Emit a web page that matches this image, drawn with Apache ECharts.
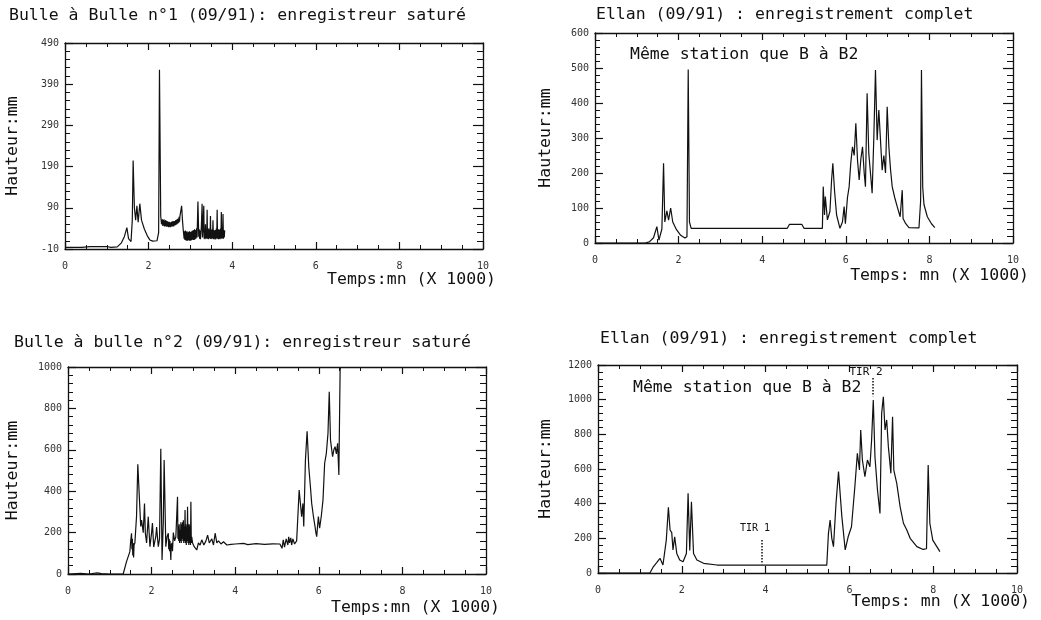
<!DOCTYPE html>
<html>
<head>
<meta charset="utf-8">
<title>Bulle à bulle / Ellan (09/91)</title>
<script src="https://cdn.jsdelivr.net/npm/echarts@6/dist/echarts.min.js"></script>
<style>
  html, body { margin: 0; padding: 0; background: #fff; }
  #main { width: 1041px; height: 620px; }
</style>
</head>
<body>
<div id="main"></div>
<script>
// titres des 4 graphes
var titres = [
  "Bulle à Bulle n°1 (09/91): enregistreur saturé",
  "Ellan (09/91) : enregistrement complet",
  "Bulle à bulle n°2 (09/91): enregistreur saturé",
  "Ellan (09/91) : enregistrement complet"
];
var nomsX = ["Temps:mn (X 1000)", "Temps: mn (X 1000)", "Temps:mn (X 1000)", "Temps: mn (X 1000)"];
var nomY = "Hauteur:mm";

// axe des temps (x 1000 mn)
var axeX = [0, 10, 2];
// axes des hauteurs : [min, max, pas]
var axeY1 = [-10, 490, 100];
var axeY2 = [0, 600, 100];
var axeY3 = [0, 1000, 200];
var axeY4 = [0, 1200, 200];

// Bulle à bulle n°1 : [temps, hauteur]
var bulle1 = [
  [0, -6], [0.4, -6], [0.6, -4], [1.0, -4], [1.1, -6], [1.25, -5], [1.35, 5], [1.42, 20],
  [1.48, 42], [1.52, 15], [1.58, 8], [1.61, 60], [1.63, 205], [1.66, 90], [1.69, 60],
  [1.72, 95], [1.75, 55], [1.79, 100], [1.83, 60], [1.9, 38], [1.97, 22], [2.03, 12],
  [2.1, 9], [2.2, 10], [2.24, 30], [2.26, 425], [2.29, 70], [2.31, 50],
  [2.33, 62], [2.34, 46], [2.35, 60], [2.36, 47], [2.37, 62], [2.38, 45], [2.39, 58],
  [2.4, 46], [2.41, 60], [2.42, 44], [2.43, 58], [2.44, 45], [2.45, 57], [2.46, 44],
  [2.47, 56], [2.48, 43], [2.49, 56], [2.5, 44], [2.51, 55], [2.52, 43], [2.53, 55],
  [2.54, 45], [2.55, 56], [2.56, 44], [2.57, 57], [2.58, 46], [2.59, 57], [2.6, 45],
  [2.61, 58], [2.62, 47], [2.63, 58], [2.64, 48], [2.65, 60], [2.66, 49], [2.67, 61],
  [2.68, 50], [2.69, 63], [2.7, 52], [2.71, 64], [2.72, 54], [2.73, 68], [2.74, 56],
  [2.75, 70], [2.77, 72], [2.79, 95], [2.81, 60], [2.83, 35],
  [2.85, 15], [2.86, 33], [2.87, 12], [2.88, 35], [2.89, 11], [2.9, 32], [2.91, 10],
  [2.92, 33], [2.93, 10], [2.94, 30], [2.95, 12], [2.96, 32], [2.97, 10], [2.98, 33],
  [2.99, 11], [3.0, 31], [3.01, 10], [3.02, 32], [3.03, 12], [3.04, 34], [3.05, 13],
  [3.06, 35], [3.07, 12], [3.08, 36], [3.09, 12], [3.1, 38], [3.11, 14], [3.12, 36],
  [3.13, 15], [3.15, 40], [3.16, 18], [3.18, 105], [3.2, 20], [3.21, 38], [3.22, 15],
  [3.23, 35], [3.24, 14], [3.26, 40], [3.28, 100], [3.29, 18], [3.3, 35], [3.32, 95],
  [3.33, 15], [3.34, 38], [3.35, 14], [3.36, 50], [3.37, 16], [3.38, 36], [3.39, 15],
  [3.4, 85], [3.41, 15], [3.42, 38], [3.43, 14], [3.44, 40], [3.45, 16], [3.46, 36],
  [3.47, 15], [3.48, 70], [3.49, 14], [3.5, 36], [3.51, 15], [3.52, 38], [3.53, 16],
  [3.54, 60], [3.55, 14], [3.56, 36], [3.57, 15], [3.58, 35], [3.59, 13], [3.6, 36],
  [3.61, 14], [3.62, 40], [3.63, 16], [3.64, 85], [3.65, 15], [3.66, 38], [3.67, 14],
  [3.68, 38], [3.69, 15], [3.7, 36], [3.71, 14], [3.72, 40], [3.73, 16], [3.74, 80],
  [3.75, 15], [3.76, 38], [3.77, 16], [3.78, 75], [3.79, 15], [3.8, 36], [3.81, 18], [3.82, 35]
];

// Ellan, même station que B à B2 (haut)
var ellan1 = [
  [0, 0], [1.2, 0], [1.3, 3], [1.4, 15], [1.48, 47], [1.53, 8], [1.6, 40], [1.64, 228],
  [1.67, 60], [1.72, 92], [1.76, 65], [1.81, 100], [1.86, 60], [1.95, 38], [2.05, 22],
  [2.15, 14], [2.2, 18], [2.23, 496], [2.26, 60], [2.3, 42], [4.6, 42], [4.65, 53],
  [4.95, 53], [5.0, 42], [5.44, 42], [5.46, 161], [5.49, 80], [5.51, 133], [5.56, 66],
  [5.62, 90], [5.66, 180], [5.69, 228], [5.73, 150], [5.78, 80], [5.86, 42], [5.92, 60],
  [5.96, 104], [5.99, 55], [6.04, 130], [6.08, 161], [6.12, 230], [6.16, 275], [6.2, 250],
  [6.24, 342], [6.28, 237], [6.32, 180], [6.36, 240], [6.4, 275], [6.44, 200], [6.47, 161],
  [6.51, 428], [6.55, 256], [6.59, 200], [6.63, 142], [6.67, 300], [6.71, 494], [6.75, 294],
  [6.79, 380], [6.83, 294], [6.87, 208], [6.91, 250], [6.95, 200], [6.99, 389], [7.03, 275],
  [7.07, 210], [7.11, 161], [7.17, 130], [7.23, 104], [7.3, 75], [7.33, 70], [7.35, 151],
  [7.37, 70], [7.43, 56], [7.51, 44], [7.75, 43], [7.79, 120], [7.81, 494], [7.84, 160],
  [7.87, 110], [7.95, 75], [8.05, 55], [8.13, 44]
];

// Bulle à bulle n°2
var bulle2 = [
  [0, 0], [0.3, 3], [0.5, 0], [0.7, 5], [0.8, 2], [1.0, 0], [1.32, 0], [1.4, 60],
  [1.48, 108], [1.5, 160], [1.52, 197], [1.53, 120], [1.54, 170], [1.55, 90], [1.56, 150],
  [1.57, 80], [1.58, 140], [1.6, 150], [1.64, 280], [1.67, 530], [1.71, 357],
  [1.74, 230], [1.76, 261], [1.8, 200], [1.83, 341], [1.85, 197], [1.88, 150], [1.92, 277],
  [1.96, 132], [2.0, 200], [2.02, 246], [2.05, 130], [2.07, 150], [2.1, 180], [2.12, 227],
  [2.16, 132], [2.19, 170], [2.22, 605], [2.25, 68], [2.28, 250], [2.3, 551], [2.34, 132],
  [2.37, 180], [2.4, 197], [2.41, 120], [2.42, 170], [2.43, 110], [2.44, 160], [2.46, 68],
  [2.47, 140], [2.49, 150], [2.5, 110], [2.52, 200], [2.55, 160], [2.58, 180], [2.62, 373],
  [2.63, 170], [2.64, 230], [2.65, 160], [2.66, 240], [2.67, 150], [2.68, 213], [2.69, 160],
  [2.7, 250], [2.71, 150], [2.72, 240], [2.73, 170], [2.74, 250], [2.75, 160], [2.76, 260],
  [2.77, 150], [2.78, 230], [2.79, 160], [2.8, 309], [2.81, 150], [2.82, 240], [2.83, 140],
  [2.84, 230], [2.85, 160], [2.86, 325], [2.87, 150], [2.88, 240], [2.89, 140], [2.9, 240],
  [2.91, 150], [2.92, 230], [2.93, 140], [2.94, 349], [2.95, 150], [2.96, 180], [2.98, 150],
  [3.02, 132], [3.08, 116], [3.12, 150], [3.16, 140], [3.2, 165], [3.25, 140], [3.3, 160],
  [3.34, 188], [3.38, 150], [3.44, 170], [3.48, 140], [3.52, 197], [3.56, 150], [3.6, 160],
  [3.66, 145], [3.72, 156], [3.8, 140], [3.9, 143], [4.0, 145], [4.2, 148], [4.3, 142],
  [4.5, 147], [4.7, 143], [4.9, 146], [5.07, 145], [5.12, 124], [5.15, 165], [5.18, 130],
  [5.22, 170], [5.26, 140], [5.28, 180], [5.3, 150], [5.33, 175], [5.35, 140], [5.38, 170],
  [5.42, 145], [5.47, 160], [5.53, 406], [5.57, 320], [5.59, 277], [5.62, 341],
  [5.64, 229], [5.68, 551], [5.72, 690], [5.76, 518], [5.8, 420], [5.83, 341], [5.87, 280],
  [5.91, 229], [5.93, 200], [5.95, 180], [5.97, 230], [5.99, 277], [6.02, 221], [6.06, 280],
  [6.1, 357], [6.14, 535], [6.18, 583], [6.22, 680], [6.25, 880], [6.28, 647], [6.33, 567],
  [6.36, 600], [6.39, 615], [6.42, 580], [6.45, 631], [6.48, 478], [6.51, 985], [6.52, 1000]
];

// Ellan, même station que B à B2 (bas)
var ellan2 = [
  [0, 0], [1.24, 0], [1.32, 36], [1.4, 60], [1.48, 85], [1.55, 46], [1.63, 190], [1.68, 379],
  [1.72, 248], [1.76, 233], [1.79, 133], [1.83, 209], [1.88, 113], [1.95, 75], [2.03, 65],
  [2.11, 113], [2.15, 460], [2.19, 130], [2.23, 411], [2.28, 113], [2.36, 75], [2.52, 56],
  [2.84, 46], [3.15, 45], [5.46, 45], [5.5, 229], [5.54, 306], [5.58, 200], [5.62, 152],
  [5.68, 400], [5.74, 585], [5.82, 325], [5.9, 133], [5.97, 209], [6.05, 267], [6.13, 498],
  [6.19, 690], [6.24, 594], [6.27, 825], [6.31, 652], [6.37, 556], [6.43, 652], [6.49, 613],
  [6.53, 767], [6.57, 998], [6.61, 671], [6.67, 479], [6.73, 344], [6.77, 921], [6.81, 1017],
  [6.85, 825], [6.89, 883], [6.93, 729], [6.99, 575], [7.03, 902], [7.06, 594], [7.13, 517],
  [7.21, 383], [7.29, 287], [7.37, 248], [7.45, 200], [7.61, 152], [7.76, 136], [7.84, 140],
  [7.88, 623], [7.92, 287], [7.99, 190], [8.16, 123]
];
// repères des tirs : [temps, haut, bas]
var tir1 = [3.9, 190, 50];
var tir2 = [6.55, 1125, 1020];

var police = "DejaVu Sans Mono";
var noir = "#111";

var grilles = [
  { left: 65, top: 43, width: 418, height: 206 },
  { left: 595, top: 33, width: 418, height: 210 },
  { left: 68, top: 367, width: 418, height: 207 },
  { left: 598, top: 365, width: 419, height: 208 }
];
var axesY = [axeY1, axeY2, axeY3, axeY4];
var series = [bulle1, ellan1, bulle2, ellan2];
var ecarts = [44, 41, 47, 44];

function axeXpour(i, haut) {
  return {
    type: "value", gridIndex: i, position: haut ? "top" : "bottom",
    min: axeX[0], max: axeX[1], interval: axeX[2],
    axisLine: { show: true, onZero: false, lineStyle: { color: noir, width: 1.3 } },
    axisTick: { show: true, inside: true, length: 7, lineStyle: { color: noir, width: 1.2 } },
    minorTick: { show: true, splitNumber: 4, length: 4, lineStyle: { color: noir } },
    axisLabel: { show: !haut, fontFamily: police, fontSize: 10, color: "#333", margin: 12 },
    splitLine: { show: false }
  };
}

function axeYpour(i, droite) {
  var a = axesY[i];
  return {
    type: "value", gridIndex: i, position: droite ? "right" : "left",
    min: a[0], max: a[1], interval: a[2],
    name: droite ? "" : nomY, nameLocation: "middle", nameGap: ecarts[i],
    nameTextStyle: { fontFamily: police, fontSize: 16.5, color: noir },
    axisLine: { show: true, onZero: false, lineStyle: { color: noir, width: 1.3 } },
    axisTick: { show: true, inside: true, length: droite ? 10 : 8, lineStyle: { color: noir, width: 1.2 } },
    minorTick: { show: true, splitNumber: 5, length: droite ? 6 : 5, lineStyle: { color: noir } },
    axisLabel: {
      show: !droite, fontFamily: police, fontSize: 10, color: "#333", margin: 6,
      formatter: function (v) { return String(v); }
    },
    splitLine: { show: false }
  };
}

var xAxes = [], yAxes = [], lignes = [];
for (var i = 0; i < 4; i++) {
  xAxes.push(axeXpour(i, false), axeXpour(i, true));
  yAxes.push(axeYpour(i, false), axeYpour(i, true));
  lignes.push({
    type: "line", xAxisIndex: 2 * i, yAxisIndex: 2 * i,
    data: series[i], showSymbol: false, symbol: "none",
    lineStyle: { color: noir, width: 1.2 }, silent: true
  });
}
// tirets pour TIR 1 et TIR 2
lignes[3].markLine = {
  symbol: "none", silent: true, label: { show: false },
  lineStyle: { type: "dotted", color: noir, width: 1.5 },
  data: [
    [{ coord: [tir1[0], tir1[1]] }, { coord: [tir1[0], tir1[2]] }],
    [{ coord: [tir2[0], tir2[1]] }, { coord: [tir2[0], tir2[2]] }]
  ]
};

function texte(x, y, t, taille, align) {
  return {
    type: "text", x: x, y: y, silent: true,
    style: { text: t, fontFamily: police, fontSize: taille, fill: noir, align: align || "left", verticalAlign: "middle" }
  };
}

var myChart = echarts.init(document.getElementById("main"));
var option = {
  backgroundColor: "#fff",
  animation: false,
  title: [
    { text: titres[0], left: 9, top: 7 },
    { text: titres[1], left: 596, top: 6 },
    { text: titres[2], left: 14, top: 334 },
    { text: titres[3], left: 600, top: 330 }
  ].map(function (t) {
    t.padding = 0;
    t.textStyle = { fontFamily: police, fontSize: 16.5, fontWeight: "normal", color: noir };
    return t;
  }),
  grid: grilles,
  xAxis: xAxes,
  yAxis: yAxes,
  series: lignes,
  graphic: [
    texte(496, 280, nomsX[0], 16.5, "right"),
    texte(1029, 276, nomsX[1], 16.5, "right"),
    texte(500, 608, nomsX[2], 16.5, "right"),
    texte(1030, 602, nomsX[3], 16.5, "right"),
    texte(630, 55, "Même station que B à B2", 16.5),
    texte(633, 388, "Même station que B à B2", 16.5),
    texte(755, 528, "TIR 1", 10, "center"),
    texte(866, 372, "TIR 2", 11, "center")
  ]
};
myChart.setOption(option);
</script>
</body>
</html>
